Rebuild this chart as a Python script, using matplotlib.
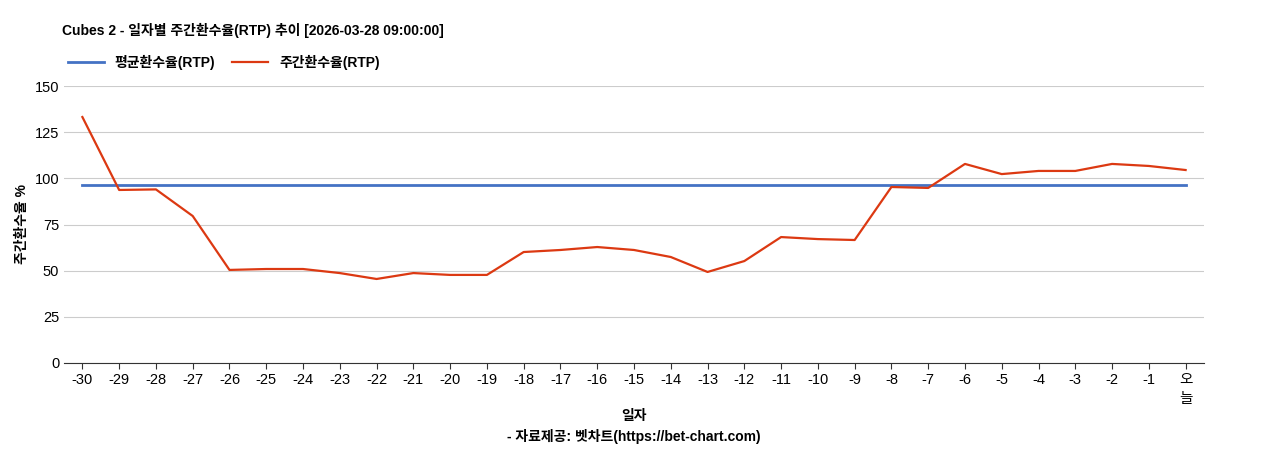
import matplotlib
matplotlib.use("Agg")
import matplotlib.pyplot as plt

plt.rcParams['font.family'] = ['Liberation Sans', 'Noto Sans CJK KR', 'DejaVu Sans']

days = [str(i) for i in range(-30, 0)] + ["오\n늘"]
rtp = [133.2, 93.7, 94.0, 79.6, 50.4, 50.9, 50.9, 48.7, 45.5, 48.7, 47.7, 47.7,
       60.1, 61.2, 62.8, 61.2, 57.4, 49.3, 55.2, 68.2, 67.1, 66.6, 95.3, 94.8,
       107.8, 102.3, 104.0, 104.0, 107.8, 106.7, 104.5]
avg = 96.4

fig = plt.figure(figsize=(12.68, 4.5), dpi=100)
ax = fig.add_axes([64/1268, 1-363/450, (1204-64)/1268, (363-86)/450])
x = list(range(len(days)))
ax.plot(x, [avg]*len(x), color='#4472c4', lw=2, label='평균환수율(RTP)')
ax.plot(x, rtp, color='#dc3912', lw=1.6, label='주간환수율(RTP)')
ax.set_xlim(-0.5, len(x)-0.5)
ax.set_ylim(0, 150)
ax.set_yticks([0, 25, 50, 75, 100, 125, 150])
ax.set_xticks(x)
ax.set_xticklabels(days, fontsize=10.5, linespacing=1.4)
ax.tick_params(axis='y', labelsize=10.5, length=0)
ax.tick_params(axis='x', length=4, color='#333333')
ax.grid(axis='y', color='#cccccc', lw=0.8)
ax.set_axisbelow(True)
for s in ['top', 'right', 'left']:
    ax.spines[s].set_visible(False)
ax.spines['bottom'].set_color('#333333')
ax.set_ylabel('주간환수율 %', fontsize=10, fontweight='bold')
ax.set_xlabel('일자', fontsize=10, fontweight='bold', labelpad=2)
fig.text(62/1268, 1-30/450, 'Cubes 2 - 일자별 주간환수율(RTP) 추이 [2026-03-28 09:00:00]',
         fontsize=10, fontweight='bold', va='center')
fig.text(0.5, 1-437/450, '- 자료제공: 벳차트(https://bet-chart.com)', fontsize=10,
         fontweight='bold', ha='center', va='center')
fig.legend(loc='upper left', bbox_to_anchor=(55/1268, 1-42/450), ncol=2, frameon=False,
           handlelength=2.6, columnspacing=1.2,
           prop={'weight': 'bold', 'size': 10})
fig.savefig('out.png', dpi=100)
